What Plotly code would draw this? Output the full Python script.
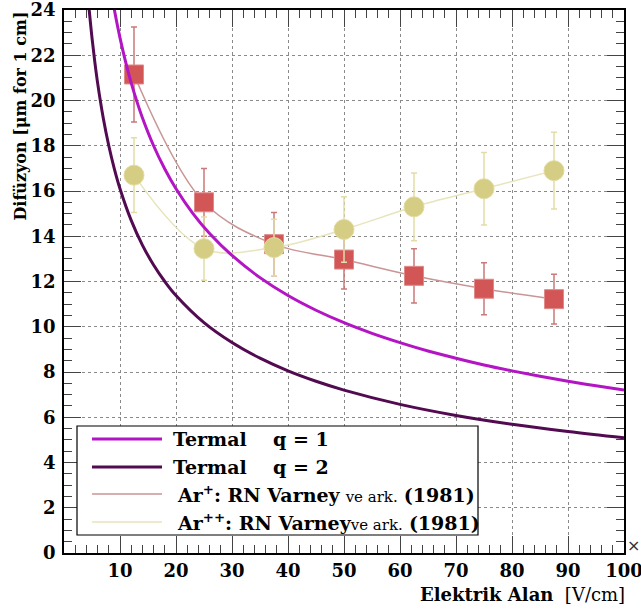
import plotly.graph_objects as go

# ---- data ----
field = [12.5, 25, 37.5, 50, 62.5, 75, 87.5]
ar1 = [21.15, 15.5, 13.65, 12.97, 12.25, 11.68, 11.22]
ar1_err = [2.1, 1.5, 1.4, 1.3, 1.2, 1.15, 1.1]
ar2 = [16.7, 13.45, 13.5, 14.3, 15.3, 16.1, 16.9]
ar2_err = [1.65, 1.4, 1.25, 1.45, 1.5, 1.6, 1.7]

therm1_x = [8.5, 9, 10, 11, 12, 13, 14, 16, 18, 20, 23, 26, 30, 35, 40, 45, 50,
            55, 60, 65, 70, 75, 80, 85, 90, 95, 100]
therm1_y = [24.70, 24.0, 22.77, 21.71, 20.78, 19.97, 19.24, 18.0, 16.97, 16.10,
            15.01, 14.12, 13.15, 12.17, 11.38, 10.73, 10.18, 9.71, 9.30, 8.93,
            8.61, 8.31, 8.05, 7.81, 7.59, 7.39, 7.20]
therm2_x = [4.2, 4.5, 5, 5.5, 6, 7, 8, 9, 10, 12, 14, 16, 18, 20, 25, 30, 35,
            40, 45, 50, 60, 70, 80, 90, 100]
therm2_y = [24.84, 24.0, 22.77, 21.71, 20.78, 19.24, 18.0, 16.97, 16.10, 14.70,
            13.61, 12.73, 12.0, 11.38, 10.18, 9.30, 8.61, 8.05, 7.59, 7.20,
            6.57, 6.08, 5.69, 5.37, 5.09]

x_ticks = [10, 20, 30, 40, 50, 60, 70, 80, 90, 100]
y_ticks = [0, 2, 4, 6, 8, 10, 12, 14, 16, 18, 20, 22, 24]

C_Q1 = "#b415c4"
C_Q2 = "#520a50"
C_AR1_LINE = "#c99595"
C_AR1_MARK = "#d35656"
C_AR1_ERR = "#c97a7a"
C_AR2_LINE = "#e8e4bc"
C_AR2_MARK = "#d5cd84"
C_AR2_ERR = "#e2dda8"

FONT = "DejaVu Serif"

fig = go.Figure()

fig.add_trace(go.Scatter(
    x=field, y=ar1, mode="lines+markers", line=dict(color=C_AR1_LINE, width=1.5, shape="spline"),
    marker=dict(symbol="square", size=19, color=C_AR1_MARK, line=dict(color="#e08a8a", width=1)),
    error_y=dict(type="data", array=ar1_err, color=C_AR1_ERR, thickness=1.5, width=3),
    showlegend=False))
fig.add_trace(go.Scatter(
    x=field, y=ar2, mode="lines+markers", line=dict(color=C_AR2_LINE, width=1.5, shape="spline"),
    marker=dict(symbol="circle", size=20, color=C_AR2_MARK, line=dict(color="#e2dca0", width=1)),
    error_y=dict(type="data", array=ar2_err, color=C_AR2_ERR, thickness=1.5, width=3),
    showlegend=False))
fig.add_trace(go.Scatter(x=therm1_x, y=therm1_y, mode="lines",
                         line=dict(color=C_Q1, width=3, shape="spline"), showlegend=False))
fig.add_trace(go.Scatter(x=therm2_x, y=therm2_y, mode="lines",
                         line=dict(color=C_Q2, width=3, shape="spline"), showlegend=False))

axis_common = dict(showline=True, linecolor="black", linewidth=1.5, mirror="ticks",
                   ticks="inside", ticklen=17, tickwidth=1.2, tickcolor="#444",
                   showgrid=True, gridcolor="#8a8a8a", griddash="dot", gridwidth=1,
                   zeroline=False, automargin=False, ticklabeloverflow="allow",
                   tickfont=dict(family=FONT, size=18, color="black", weight="bold"))

fig.update_xaxes(range=[0, 100], tickvals=x_ticks, ticktext=[str(v) for v in x_ticks],
                 minor=dict(dtick=2, ticklen=8, ticks="inside", tickcolor="#444", tickwidth=1.2,
                            showgrid=False),
                 ticklabelstandoff=1, **axis_common)
fig.update_yaxes(range=[0, 24], tickvals=y_ticks, ticktext=[str(v) for v in y_ticks],
                 minor=dict(dtick=0.5, ticklen=8, ticks="inside", tickcolor="#444", tickwidth=1.2,
                            showgrid=False),
                 ticklabelstandoff=3, **axis_common)

# ---- legend (drawn box); page pixel -> paper helpers ----
def px_x(p):
    return (p - 64) / 560.0

def px_y(p):
    return (553 - p) / 543.0

shapes = [dict(type="rect", xref="paper", yref="paper", x0=px_x(77), x1=px_x(478),
               y0=px_y(535), y1=px_y(426), line=dict(color="black", width=1.2),
               fillcolor="white", layer="above")]
rows = [439, 467, 494, 522]
row_cols = [(C_Q1, 3), (C_Q2, 3), (C_AR1_LINE, 1.5), (C_AR2_LINE, 1.5)]
for ry, (c, w) in zip(rows, row_cols):
    shapes.append(dict(type="line", xref="paper", yref="paper", x0=px_x(92), x1=px_x(162),
                       y0=px_y(ry), y1=px_y(ry), line=dict(color=c, width=w), layer="above"))

lf = dict(family=FONT, size=19, color="black")
annotations = [
    dict(text="<b>Termal</b>", x=px_x(171), y=px_y(rows[0]), xref="paper", yref="paper",
         xanchor="left", yanchor="middle", showarrow=False, font=lf),
    dict(text="<b>q = 1</b>", x=px_x(271), y=px_y(rows[0]), xref="paper", yref="paper",
         xanchor="left", yanchor="middle", showarrow=False, font=lf),
    dict(text="<b>Termal</b>", x=px_x(171), y=px_y(rows[1]), xref="paper", yref="paper",
         xanchor="left", yanchor="middle", showarrow=False, font=lf),
    dict(text="<b>q = 2</b>", x=px_x(271), y=px_y(rows[1]), xref="paper", yref="paper",
         xanchor="left", yanchor="middle", showarrow=False, font=lf),
    dict(text="<b>Ar<sup>+</sup>: RN Varney</b> <span style='font-size:15px'>ve ark.</span> <b>(1981)</b>",
         x=px_x(175), y=px_y(rows[2]), xref="paper", yref="paper",
         xanchor="left", yanchor="middle", showarrow=False, font=lf),
    dict(text="<b>Ar<sup>++</sup>: RN Varney</b><span style='font-size:15px'>ve ark.</span> <b>(1981)</b>",
         x=px_x(175), y=px_y(rows[3]), xref="paper", yref="paper",
         xanchor="left", yanchor="middle", showarrow=False, font=lf),
    # axis titles
    dict(text="<b>Elektrik Alan</b>  [V/cm]", x=1.005, y=px_y(594), xref="paper", yref="paper",
         xanchor="right", yanchor="middle", showarrow=False,
         font=dict(family=FONT, size=18, color="black")),
    dict(text="<b>Difüzyon [μm for 1 cm]</b>", x=px_x(20), y=1.0, xref="paper", yref="paper",
         xanchor="center", yanchor="top", textangle=-90, showarrow=False,
         font=dict(family=FONT, size=16, color="black")),
    dict(text="×", x=px_x(633), y=px_y(545), xref="paper", yref="paper",
         xanchor="center", yanchor="middle", showarrow=False,
         font=dict(family="DejaVu Sans", size=16, color="#333")),
]

fig.update_layout(width=641, height=610, margin=dict(l=64, r=17, t=10, b=57),
                  paper_bgcolor="white", plot_bgcolor="white",
                  shapes=shapes, annotations=annotations, showlegend=False)

fig.write_html("out.html", config={"displayModeBar": False},
               post_script="document.body.style.margin='0';")
